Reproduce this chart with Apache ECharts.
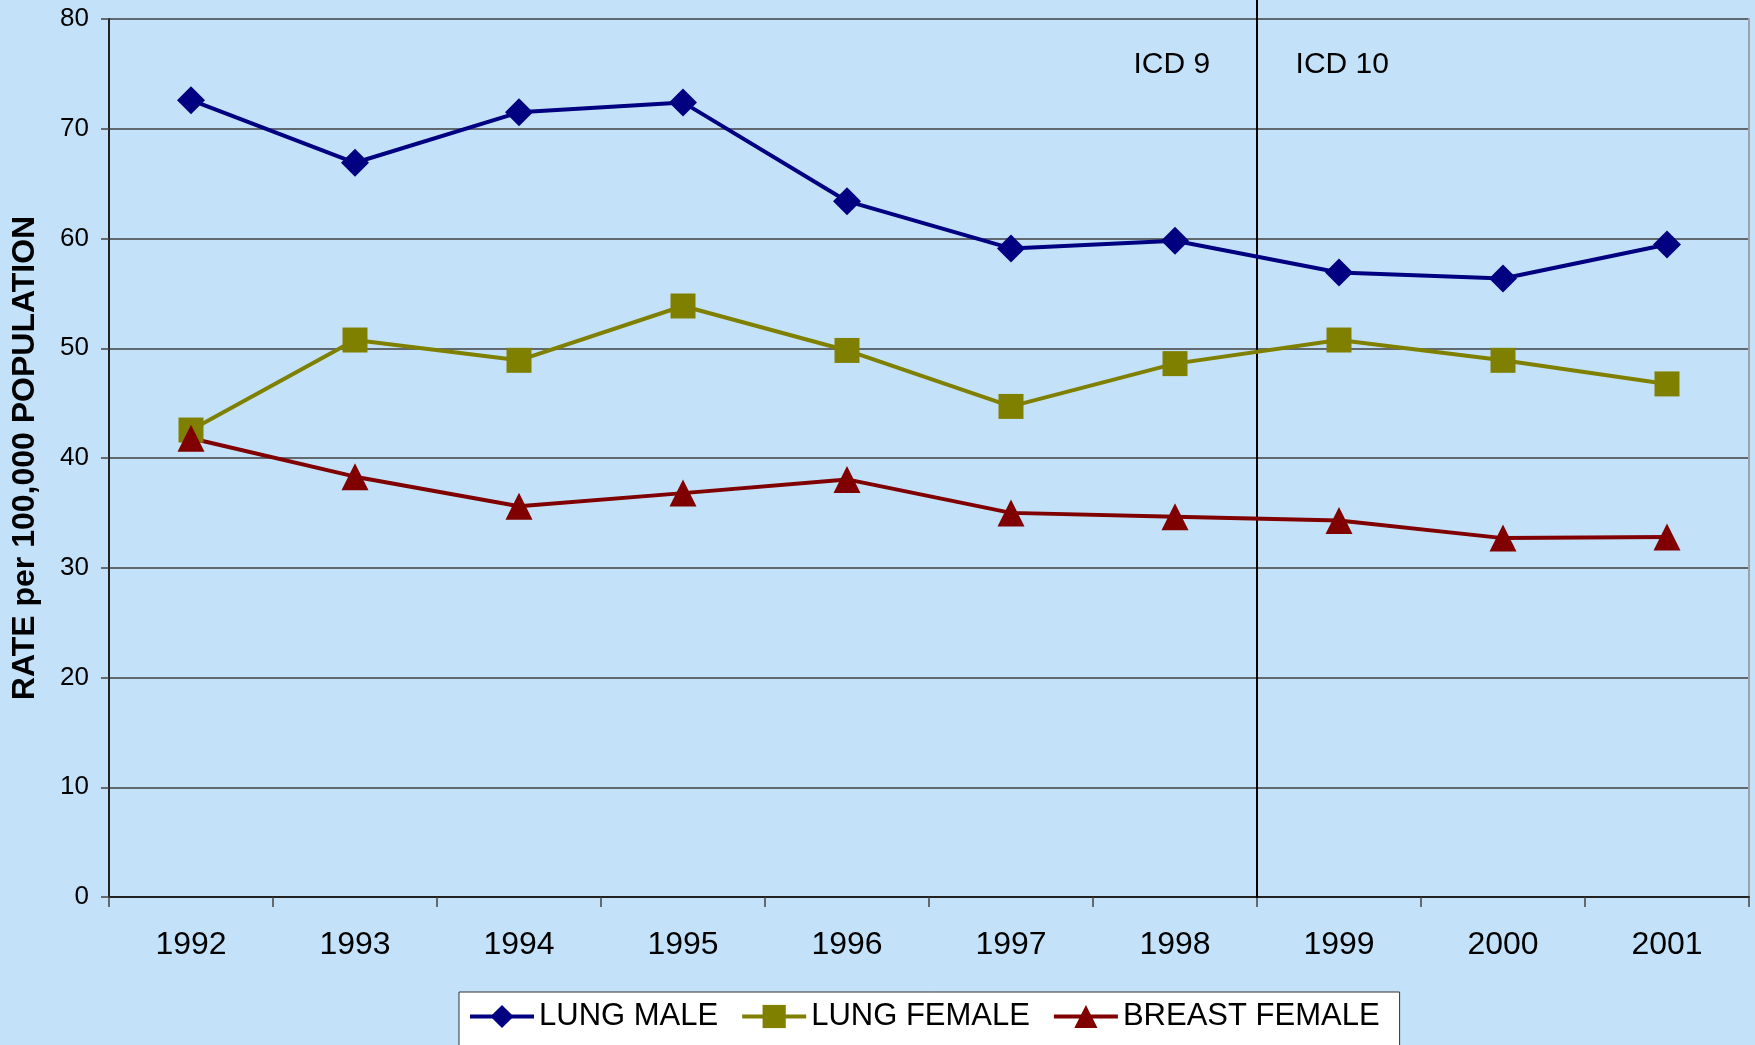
<!DOCTYPE html>
<html>
<head>
<meta charset="utf-8">
<script src="https://cdn.jsdelivr.net/npm/echarts@6/dist/echarts.min.js"></script>
<style>
html,body{margin:0;padding:0;background:#C3E2F9;}
#chart{width:1755px;height:1045px;}
</style>
</head>
<body>
<div id="chart"></div>
<script>
const years = ['1992','1993','1994','1995','1996','1997','1998','1999','2000','2001'];
const lungMale = [72.6, 66.9, 71.5, 72.4, 63.4, 59.1, 59.8, 56.9, 56.35, 59.45];
const lungFemale = [42.55, 50.75, 48.9, 53.85, 49.8, 44.7, 48.6, 50.75, 48.9, 46.75];
const breastFemale = [41.8, 38.3, 35.6, 36.8, 38.05, 35.0, 34.65, 34.3, 32.7, 32.8];
const yTicks = {min: 0, max: 80, interval: 10};
// ICD coding change: boundary after the 7th category (between 1998 and 1999)
const icdBoundary = 7;
const icdLine = [[icdBoundary, -0.1], [icdBoundary, 81.8]];
const icdLabels = [
  {name: 'ICD 9', value: [6.48, 75.8]},
  {name: 'ICD 10', value: [7.52, 75.8]}
];

const FONT = '"Liberation Sans", Arial, sans-serif';
const chart = echarts.init(document.getElementById('chart'), null, {renderer: 'canvas'});
chart.setOption({
  animation: false,
  backgroundColor: '#C3E2F9',
  textStyle: {fontFamily: FONT},
  grid: {left: 109, right: 6, top: 19, bottom: 148, containLabel: false},
  legend: {
    left: 459, top: 992,
    backgroundColor: '#ffffff',
    borderColor: '#333333', borderWidth: 1,
    padding: [9, 20, 40, 9],
    itemWidth: 64, itemHeight: 29, itemGap: 22,
    lineStyle: {width: 4},
    textStyle: {fontSize: 31, color: '#000', fontFamily: FONT},
    data: ['LUNG MALE', 'LUNG FEMALE', 'BREAST FEMALE']
  },
  xAxis: [{
    type: 'category',
    data: years,
    boundaryGap: true,
    axisLine: {lineStyle: {color: '#222', width: 2}},
    axisTick: {show: true, length: 10, lineStyle: {color: '#444', width: 1.5}},
    axisLabel: {fontSize: 32, color: '#000', margin: 32, fontFamily: FONT},
    splitLine: {show: false}
  }, {
    type: 'value', min: 0, max: 10, show: false
  }],
  yAxis: [{
    type: 'value',
    min: yTicks.min, max: yTicks.max, interval: yTicks.interval,
    name: 'RATE per 100,000 POPULATION',
    nameLocation: 'middle',
    nameRotate: 90,
    nameGap: 68,
    nameTextStyle: {fontSize: 32, fontWeight: 'bold', color: '#000', fontFamily: FONT},
    axisLine: {show: true, lineStyle: {color: '#222', width: 2}},
    axisTick: {show: true, length: 8, lineStyle: {color: '#444', width: 1.5}},
    axisLabel: {fontSize: 26, color: '#000', margin: 20, fontFamily: FONT},
    splitLine: {show: true, lineStyle: {color: '#404040', width: 1.5}}
  }, {
    type: 'value', position: 'right',
    min: yTicks.min, max: yTicks.max, interval: yTicks.interval,
    axisLine: {show: true, lineStyle: {color: '#9aa3ab', width: 2}},
    axisTick: {show: false}, axisLabel: {show: false}, splitLine: {show: false}
  }],
  series: [{
    name: 'LUNG MALE', type: 'line', data: lungMale,
    symbol: 'diamond', symbolSize: 28,
    lineStyle: {color: '#000080', width: 4},
    itemStyle: {color: '#000080'}
  }, {
    name: 'LUNG FEMALE', type: 'line', data: lungFemale,
    symbol: 'rect', symbolSize: 25,
    lineStyle: {color: '#808000', width: 4},
    itemStyle: {color: '#808000'}
  }, {
    name: 'BREAST FEMALE', type: 'line', data: breastFemale,
    symbol: 'triangle', symbolSize: 27,
    lineStyle: {color: '#800000', width: 4},
    itemStyle: {color: '#800000'}
  }, {
    name: 'ICD', type: 'line', xAxisIndex: 1, data: icdLine,
    symbol: 'none', clip: false, silent: true,
    lineStyle: {color: '#000', width: 2},
    z: 1
  }, {
    name: 'ICD labels', type: 'scatter', xAxisIndex: 1, data: icdLabels,
    symbolSize: 0, silent: true,
    itemStyle: {opacity: 1},
    label: {show: true, position: 'inside', formatter: p => p.name, fontSize: 30, color: '#000',
            textBorderWidth: 0, fontFamily: FONT}
  }]
});
</script>
</body>
</html>
